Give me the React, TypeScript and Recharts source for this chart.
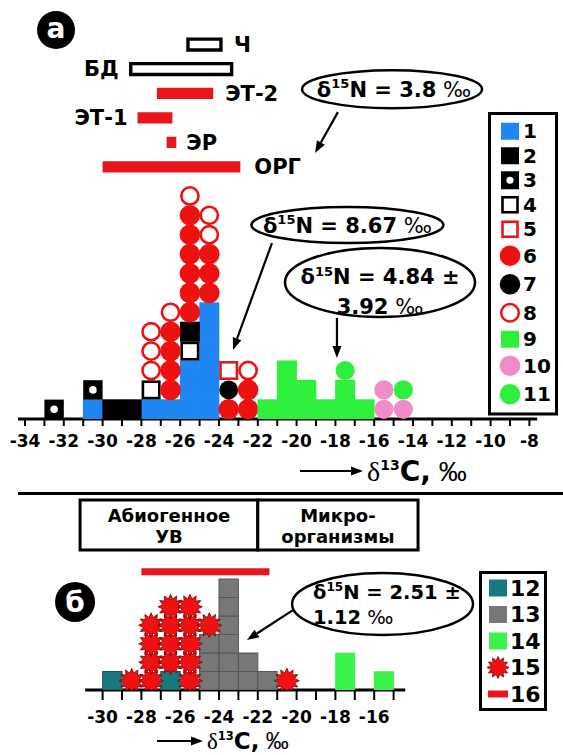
import React from 'react';
import {
  ScatterChart, Scatter, XAxis, YAxis, ReferenceArea, ReferenceDot, ReferenceLine, Legend,
} from 'recharts';

// ---------------- fonts / colours ----------------
const FONT = "'DejaVu Sans', 'Liberation Sans', Arial, sans-serif";
const SERIF = "'Liberation Serif', 'DejaVu Serif', serif";
const SANS = "'Liberation Sans', Arial, sans-serif";
const RED = '#e8161b';

// ---------------- data: panel а (counts per 1‰ δ13C bin, bin = [edge, edge+1]) ----------------
const BINS_A = [-33, -32, -31, -30, -29, -28, -27, -26, -25, -24, -23, -22, -21, -20, -19, -18, -17, -16, -15];
const S1 = [0, 0, 1, 0, 0, 1, 1, 3, 6, 0, 0, 0, 0, 0, 0, 0, 0, 0, 0];
const S2 = [0, 0, 0, 1, 1, 0, 0, 1, 0, 0, 0, 0, 0, 0, 0, 0, 0, 0, 0];
const S3 = [1, 0, 1, 0, 0, 0, 0, 0, 0, 0, 0, 0, 0, 0, 0, 0, 0, 0, 0];
const S4 = [0, 0, 0, 0, 0, 1, 0, 1, 0, 0, 0, 0, 0, 0, 0, 0, 0, 0, 0];
const S5 = [0, 0, 0, 0, 0, 0, 0, 0, 0, 1, 0, 0, 0, 0, 0, 0, 0, 0, 0];
const S6 = [0, 0, 0, 0, 0, 0, 4, 6, 3, 1, 2, 0, 0, 0, 0, 0, 0, 0, 0];
const S7 = [0, 0, 0, 0, 0, 0, 0, 0, 0, 1, 0, 0, 0, 0, 0, 0, 0, 0, 0];
const S8 = [0, 0, 0, 0, 0, 3, 1, 1, 2, 0, 1, 0, 0, 0, 0, 0, 0, 0, 0];
const S9 = [0, 0, 0, 0, 0, 0, 0, 0, 0, 0, 0, 1, 3, 2, 1, 2, 1, 0, 0];
const S10 = [0, 0, 0, 0, 0, 0, 0, 0, 0, 0, 0, 0, 0, 0, 0, 0, 0, 2, 1];
const S11 = [0, 0, 0, 0, 0, 0, 0, 0, 0, 0, 0, 0, 0, 0, 0, 1, 0, 0, 1];
const ORDER_A = ['1', '3', '4', '2', '6', '7', '5', '8', '9', '10', '11'];
const COUNTS_A: Record<string, number[]> = {
  '1': S1, '2': S2, '3': S3, '4': S4, '5': S5, '6': S6, '7': S7, '8': S8, '9': S9, '10': S10, '11': S11,
};

// ranges (δ13C) of panel а
const RANGE_NAMES = ['ОРГ', 'ЭР', 'ЭТ-1', 'ЭТ-2', 'БД', 'Ч'];
const RANGE_FROM = [-30.0, -26.7, -28.2, -27.2, -28.55, -25.6];
const RANGE_TO = [-22.9, -26.2, -26.4, -24.3, -23.35, -23.9];

// ---------------- data: panel б ----------------
const BINS_B = [-30, -29, -28, -27, -26, -25, -24, -23, -22, -21, -20, -19, -18, -17, -16];
const S12 = [1, 0, 0, 1, 0, 0, 0, 0, 0, 0, 0, 0, 0, 0, 0];
const S13 = [0, 0, 0, 0, 0, 3, 6, 2, 1, 0, 0, 0, 0, 0, 0];
const S14 = [0, 0, 0, 0, 0, 0, 0, 0, 0, 0, 0, 0, 2, 0, 1];
const S15 = [0, 1, 4, 4, 5, 1, 0, 0, 0, 1, 0, 0, 0, 0, 0];
const ORDER_B = ['12', '13', '14', '15'];
const COUNTS_B: Record<string, number[]> = { '12': S12, '13': S13, '14': S14, '15': S15 };
const RANGE_16 = [-28.0, -21.4];
const BOX_EDGES = [-31.16, -22.0, -13.74];
const BOX_TEXT = [['Абиогенное', 'УВ'], ['Микро-', 'организмы']];

// ticks and labels
const TICKS_A = [-34, -33, -32, -31, -30, -29, -28, -27, -26, -25, -24, -23, -22, -21, -20, -19, -18, -17, -16, -15, -14, -13, -12, -11, -10, -9, -8];
const TICKS_B = [-30, -29, -28, -27, -26, -25, -24, -23, -22, -21, -20, -19, -18, -17, -16, -15];
const LEGEND_A = ['1', '2', '3', '4', '5', '6', '7', '8', '9', '10', '11'];
const LEGEND_B = ['12', '13', '14', '15', '16'];
const NOTE_38 = '3.8';
const NOTE_867 = '8.67';
const NOTE_484 = ['4.84', '3.92'];
const NOTE_251 = ['2.51', '1.12'];

// ---------------- styles ----------------
const STYLE: Record<string, any> = {
  '1': { kind: 'block', fill: '#1f86f2' },
  '2': { kind: 'block', fill: '#000' },
  '3': { kind: 'dotSquare', fill: '#000' },
  '4': { kind: 'openSquare', stroke: '#000' },
  '5': { kind: 'openSquare', stroke: RED },
  '6': { kind: 'disc', fill: '#ee1111', r: 10.3 },
  '7': { kind: 'disc', fill: '#000', r: 9.4 },
  '8': { kind: 'ring', stroke: '#ee1111', r: 8.6 },
  '9': { kind: 'block', fill: '#2ef03c' },
  '10': { kind: 'disc', fill: '#f28cc8', r: 9.6 },
  '11': { kind: 'disc', fill: '#2ef03c', r: 9.6 },
  '12': { kind: 'block', fill: '#17797d', stroke: '#0f5a5d' },
  '13': { kind: 'block', fill: '#777777', stroke: '#555555' },
  '14': { kind: 'block', fill: '#3cf24c' },
  '15': { kind: 'star', fill: '#f01212', stroke: '#800000' },
  '16': { kind: 'bar', fill: RED },
};

// ---------------- layout ----------------
const W = 563;
const UX = 19.4; // px per 1 ‰ of δ13C (both panels)
const PX_M34 = 25; // page x of δ13C = -34
const pxOf = (v: number) => PX_M34 + (v + 34) * UX;

const A_H = 500, A_BASE = 419, A_UY = 19.4, A_YMAX = 21, A_AXIS_H = 40;
const A_XDOM: [number, number] = [-34.36, -7.6];
const A_MARGIN = {
  left: pxOf(A_XDOM[0]), right: W - pxOf(A_XDOM[1]),
  top: A_BASE - A_YMAX * A_UY, bottom: A_H - A_BASE - A_AXIS_H,
};

const B_TOP = 480, B_H = 275, B_BASE = 210, B_UY = 18.5, B_YMAX = 11, B_AXIS_H = 40;
const B_XDOM: [number, number] = [-30.9, -14.4];
const B_MARGIN = {
  left: pxOf(B_XDOM[0]), right: W - pxOf(B_XDOM[1]),
  top: B_BASE - B_YMAX * B_UY, bottom: B_H - B_BASE - B_AXIS_H,
};

const RANGE_ROW0 = 13.0, RANGE_STEP = 1.26;
const RANGE_STYLE: Record<string, any> = {
  'ОРГ': { outline: false, side: 'right', gap: 14 },
  'ЭР': { outline: false, side: 'right', gap: 10 },
  'ЭТ-1': { outline: false, side: 'left', gap: 10 },
  'ЭТ-2': { outline: false, side: 'right', gap: 12 },
  'БД': { outline: true, side: 'left', gap: 12 },
  'Ч': { outline: true, side: 'right', gap: 13 },
};

// ---------------- helpers ----------------
function stack(bins: number[], order: string[], counts: Record<string, number[]>) {
  const level = bins.map(() => 0);
  const out: Record<string, { x: number; y: number }[]> = {};
  order.forEach((id) => {
    out[id] = [];
    counts[id].forEach((n, i) => {
      for (let k = 0; k < n; k++) {
        out[id].push({ x: bins[i] + 0.5, y: level[i] + 0.5 });
        level[i] += 1;
      }
    });
  });
  return out;
}
const STACK_A = stack(BINS_A, ORDER_A, COUNTS_A);
const STACK_B = stack(BINS_B, ORDER_B, COUNTS_B);

function starPoints(cx: number, cy: number, ro: number, ri: number, n: number) {
  const pts: string[] = [];
  for (let i = 0; i < 2 * n; i++) {
    const a = (i * Math.PI) / n - Math.PI / 2;
    const r = i % 2 === 0 ? ro : ri;
    pts.push(`${cx + r * Math.cos(a)},${cy + r * Math.sin(a)}`);
  }
  return pts.join(' ');
}

function Mark({ id, cx, cy, w, h }: any) {
  const s = STYLE[id];
  if (cx == null || cy == null) return null;
  switch (s.kind) {
    case 'block':
      return s.stroke
        ? <rect x={cx - w / 2} y={cy - h / 2} width={w} height={h} fill={s.fill} stroke={s.stroke} strokeWidth={1} />
        : <rect x={cx - w / 2 - 0.3} y={cy - h / 2 - 0.3} width={w + 0.6} height={h + 0.6} fill={s.fill} />;
    case 'dotSquare':
      return (
        <g>
          <rect x={cx - w / 2} y={cy - h / 2} width={w} height={h} fill={s.fill} />
          <circle cx={cx} cy={cy} r={3.8} fill="#fff" />
        </g>
      );
    case 'openSquare': {
      const a = Math.min(w, h) - 3;
      return <rect x={cx - a / 2} y={cy - a / 2} width={a} height={a} fill="#fff" stroke={s.stroke} strokeWidth={2.6} />;
    }
    case 'disc':
      return <circle cx={cx} cy={cy} r={s.r} fill={s.fill} />;
    case 'ring':
      return <circle cx={cx} cy={cy} r={s.r} fill="#fff" stroke={s.stroke} strokeWidth={2.6} />;
    case 'star':
      return <polygon points={starPoints(cx, cy, 12.5, 8, 12)} fill={s.fill} stroke={s.stroke} strokeWidth={0.8} />;
    default:
      return null;
  }
}

function Swatch({ id, cx, cy }: any) {
  const s = STYLE[id];
  switch (s.kind) {
    case 'block':
      return <rect x={cx - 9} y={cy - 8.5} width={18} height={17} fill={s.fill} />;
    case 'dotSquare':
      return (
        <g>
          <rect x={cx - 9} y={cy - 9} width={18} height={18} fill={s.fill} />
          <circle cx={cx} cy={cy} r={3.6} fill="#fff" />
        </g>
      );
    case 'openSquare':
      return <rect x={cx - 7.5} y={cy - 7.5} width={15} height={15} fill="#fff" stroke={s.stroke} strokeWidth={2.6} />;
    case 'disc':
      return <circle cx={cx} cy={cy} r={10.3} fill={s.fill} />;
    case 'ring':
      return <circle cx={cx} cy={cy} r={8.8} fill="#fff" stroke={s.stroke} strokeWidth={2.5} />;
    case 'star':
      return <polygon points={starPoints(cx, cy, 11, 7.2, 12)} fill={s.fill} stroke={s.stroke} strokeWidth={0.8} />;
    case 'bar':
      return <rect x={cx - 10} y={cy - 3.5} width={20} height={7} fill={s.fill} />;
    default:
      return null;
  }
}

function LegendPanel({ ids, heightOf, pad, width, swX, lblX, fs }: any) {
  let y = pad;
  const rows = ids.map((id: string) => {
    const h = heightOf(id);
    const cy = y + h / 2;
    y += h;
    return { id, cy };
  });
  const H = y + pad;
  return (
    <svg width={width} height={H} style={{ display: 'block' }}>
      <rect x={1.5} y={1.5} width={width - 3} height={H - 3} fill="#fff" stroke="#000" strokeWidth={3} />
      {rows.map((r: any) => (
        <g key={r.id}>
          <Swatch id={r.id} cx={swX} cy={r.cy} />
          <text x={lblX} y={r.cy + fs * 0.36} fontFamily={FONT} fontWeight={700} fontSize={fs} fill="#000">{r.id}</text>
        </g>
      ))}
    </svg>
  );
}

function AxisTitle({ viewBox, x0, len, dy, fs }: any) {
  if (!viewBox) return null;
  const y = viewBox.y + dy;
  const tip = x0 + len;
  return (
    <g>
      <line x1={x0} y1={y} x2={tip - 9} y2={y} stroke="#000" strokeWidth={2} />
      <polygon points={`${tip},${y} ${tip - 12},${y - 4.5} ${tip - 12},${y + 4.5}`} fill="#000" />
      <text x={tip + 4} y={y + fs * 0.36} fontSize={fs} fill="#000">
        <tspan fontFamily={SERIF}>δ</tspan>
        <tspan fontFamily={FONT} fontWeight={700} fontSize={fs * 0.5} dy={-fs * 0.4}>13</tspan>
        <tspan fontFamily={FONT} fontWeight={700} dy={fs * 0.4}>C,</tspan>
        <tspan fontFamily={SANS}>{' ‰'}</tspan>
      </text>
    </g>
  );
}

function DeltaLine({ x, y, val, tail, anchor = 'middle', fs = 21 }: any) {
  return (
    <text x={x} y={y + fs * 0.36} textAnchor={anchor} fontFamily={FONT} fontWeight={700} fontSize={fs} fill="#000">
      <tspan>δ</tspan>
      <tspan fontSize={fs * 0.62} dy={-fs * 0.4}>15</tspan>
      <tspan dy={fs * 0.4}>{`N = ${val}`}</tspan>
      {tail}
    </text>
  );
}

const permil = <tspan fontWeight={400}>{' ‰'}</tspan>;
const plusMinus = <tspan>{' ±'}</tspan>;

function ArrowShape(p: any) {
  const { x1, y1, x2, y2 } = p;
  if ([x1, y1, x2, y2].some((v) => v == null || Number.isNaN(v))) return null;
  const ang = Math.atan2(y2 - y1, x2 - x1);
  const L = 12, hw = 4.5;
  const bx = x2 - L * Math.cos(ang), by = y2 - L * Math.sin(ang);
  const px = -Math.sin(ang) * hw, py = Math.cos(ang) * hw;
  return (
    <g>
      <line x1={x1} y1={y1} x2={bx} y2={by} stroke="#000" strokeWidth={2.2} />
      <polygon points={`${x2},${y2} ${bx + px},${by + py} ${bx - px},${by - py}`} fill="#000" />
    </g>
  );
}

const badge = (letter: string, r: number, fs: number, shift: number) => (p: any) => (
  <g>
    <circle cx={p.cx} cy={p.cy} r={r} fill="#000" />
    <text x={p.cx} y={p.cy + shift} textAnchor="middle" fill="#fff" fontFamily={FONT} fontWeight={700} fontSize={fs}>{letter}</text>
  </g>
);

const evenOnly = (v: number) => (Math.abs(v) % 2 === 0 ? String(v) : '');
const tickStyle = { fill: '#000', fontSize: 17, fontWeight: 700, fontFamily: FONT };

// ---------------- panels ----------------
function PanelA() {
  return (
    <ScatterChart width={W} height={A_H} margin={A_MARGIN}>
      <XAxis
        type="number" dataKey="x" domain={A_XDOM} allowDataOverflow ticks={TICKS_A} interval={0}
        height={A_AXIS_H} tickSize={7} tickMargin={9} tickFormatter={evenOnly} tick={tickStyle}
        axisLine={{ stroke: '#000', strokeWidth: 3 }} tickLine={{ stroke: '#000', strokeWidth: 2 }}
        label={(p: any) => <AxisTitle viewBox={p.viewBox} x0={300} len={63} dy={52} fs={28} />}
      />
      <YAxis type="number" dataKey="y" domain={[0, A_YMAX]} allowDataOverflow hide />

      {RANGE_NAMES.map((name, i) => {
        const st = RANGE_STYLE[name];
        const yc = RANGE_ROW0 + i * RANGE_STEP;
        const half = st.outline ? 0.28 : 0.29;
        return (
          <ReferenceArea
            key={name} x1={RANGE_FROM[i]} x2={RANGE_TO[i]} y1={yc - half} y2={yc + half}
            fill={st.outline ? '#fff' : RED} fillOpacity={1}
            stroke={st.outline ? '#000' : 'none'} strokeWidth={st.outline ? 3.4 : 0} ifOverflow="visible"
            label={{ value: name, position: st.side, offset: st.gap, fill: '#000', fontSize: 21, fontWeight: 700, fontFamily: FONT }}
          />
        );
      })}

      {ORDER_A.map((id) => (
        <Scatter
          key={id} name={id} data={STACK_A[id]} isAnimationActive={false}
          shape={(p: any) => <Mark id={id} cx={p.cx} cy={p.cy} w={UX} h={A_UY} />}
        />
      ))}

      <ReferenceDot x={-32.4} y={20.05} ifOverflow="visible" shape={badge('а', 19, 28, 8)} />

      <ReferenceDot
        x={-15.08} y={17.0} ifOverflow="visible"
        shape={(p: any) => (
          <g>
            <ellipse cx={p.cx} cy={p.cy} rx={90} ry={19} fill="#fff" stroke="#000" strokeWidth={2.5} />
            <DeltaLine x={p.cx + 2} y={p.cy} val={NOTE_38} tail={permil} />
          </g>
        )}
      />
      <ReferenceLine segment={[{ x: -17.87, y: 15.82 }, { x: -19.05, y: 13.71 }]} ifOverflow="visible" shape={ArrowShape} />

      <ReferenceDot
        x={-17.38} y={10.0} ifOverflow="visible"
        shape={(p: any) => (
          <g>
            <ellipse cx={p.cx} cy={p.cy} rx={96} ry={18} fill="#fff" stroke="#000" strokeWidth={2.5} />
            <DeltaLine x={p.cx} y={p.cy} val={NOTE_867} tail={permil} />
          </g>
        )}
      />
      <ReferenceLine segment={[{ x: -21.27, y: 9.07 }, { x: -23.28, y: 3.56 }]} ifOverflow="visible" shape={ArrowShape} />

      <ReferenceDot
        x={-15.7} y={7.04} ifOverflow="visible"
        shape={(p: any) => (
          <g>
            <ellipse cx={p.cx} cy={p.cy} rx={95} ry={34.5} fill="#fff" stroke="#000" strokeWidth={2.5} />
            <DeltaLine x={p.cx} y={p.cy - 6} val={NOTE_484[0]} tail={plusMinus} />
            <text x={p.cx} y={p.cy + 24 + 21 * 0.36} textAnchor="middle" fontFamily={FONT} fontWeight={700} fontSize={21} fill="#000">
              {NOTE_484[1]}
              {permil}
            </text>
          </g>
        )}
      />
      <ReferenceLine segment={[{ x: -17.92, y: 5.21 }, { x: -17.92, y: 3.14 }]} ifOverflow="visible" shape={ArrowShape} />

      <Legend
        layout="vertical" align="center" verticalAlign="middle"
        wrapperStyle={{ left: 488, top: 112, width: 70, height: 304, right: 'auto', bottom: 'auto' }}
        content={() => (
          <LegendPanel
            ids={LEGEND_A}
            heightOf={(id: string) => (STYLE[id].kind === 'disc' || STYLE[id].kind === 'ring' ? 28.5 : 24.5)}
            pad={7} width={70} swX={22} lblX={35} fs={20}
          />
        )}
      />
    </ScatterChart>
  );
}

function PanelB() {
  return (
    <ScatterChart width={W} height={B_H} margin={B_MARGIN}>
      <XAxis
        type="number" dataKey="x" domain={B_XDOM} allowDataOverflow ticks={TICKS_B} interval={0}
        height={B_AXIS_H} tickSize={10} tickMargin={11} tickFormatter={evenOnly} tick={tickStyle}
        axisLine={{ stroke: '#000', strokeWidth: 3 }} tickLine={{ stroke: '#000', strokeWidth: 2 }}
        label={(p: any) => <AxisTitle viewBox={p.viewBox} x0={157} len={46} dy={51} fs={23} />}
      />
      <YAxis type="number" dataKey="y" domain={[0, B_YMAX]} allowDataOverflow hide />

      {BOX_TEXT.map((lines, i) => (
        <ReferenceArea
          key={lines[0]} x1={BOX_EDGES[i]} x2={BOX_EDGES[i + 1]} y1={7.57} y2={10.27}
          fill="#fff" fillOpacity={1} stroke="#000" strokeWidth={3} ifOverflow="visible"
          label={(p: any) => {
            const vb = p.viewBox || {};
            const cx = vb.x + vb.width / 2;
            const cy = vb.y + vb.height / 2;
            return (
              <g>
                {lines.map((t: string, k: number) => (
                  <text key={t} x={cx} y={cy + (k === 0 ? -9.5 : 11.5) + 6.5} textAnchor="middle" fontFamily={FONT} fontWeight={700} fontSize={18} fill="#000">{t}</text>
                ))}
              </g>
            );
          }}
        />
      ))}

      <ReferenceArea x1={RANGE_16[0]} x2={RANGE_16[1]} y1={6.2} y2={6.58} fill={RED} fillOpacity={1} ifOverflow="visible" />

      {ORDER_B.map((id) => (
        <Scatter
          key={id} name={id} data={STACK_B[id]} isAnimationActive={false}
          shape={(p: any) => <Mark id={id} cx={p.cx} cy={p.cy} w={UX} h={B_UY} />}
        />
      ))}

      <ReferenceDot x={-31.42} y={4.76} ifOverflow="visible" shape={badge('б', 20, 28, 10)} />

      <ReferenceDot
        x={-15.57} y={4.65} ifOverflow="visible"
        shape={(p: any) => (
          <g>
            <ellipse cx={p.cx} cy={p.cy} rx={90.5} ry={31} fill="#fff" stroke="#000" strokeWidth={2.5} />
            <DeltaLine x={p.cx - 69.5} y={p.cy - 12} val={NOTE_251[0]} tail={plusMinus} anchor="start" fs={19.5} />
            <text x={p.cx - 69.5} y={p.cy + 13 + 19.5 * 0.36} textAnchor="start" fontFamily={FONT} fontWeight={700} fontSize={19.5} fill="#000">
              {NOTE_251[1]}
              {permil}
            </text>
          </g>
        )}
      />
      <ReferenceLine segment={[{ x: -20.19, y: 4.32 }, { x: -22.56, y: 2.7 }]} ifOverflow="visible" shape={ArrowShape} />

      <Legend
        layout="vertical" align="center" verticalAlign="middle"
        wrapperStyle={{ left: 479, top: 91, width: 68, height: 140, right: 'auto', bottom: 'auto' }}
        content={() => (
          <LegendPanel ids={LEGEND_B} heightOf={() => 26.5} pad={3.75} width={68} swX={19} lblX={31} fs={22} />
        )}
      />
    </ScatterChart>
  );
}

export default function App() {
  return (
    <div style={{ position: 'absolute', left: 0, top: 0, width: W, height: 755, background: '#fff', overflow: 'hidden' }}>
      <div style={{ position: 'absolute', left: 0, top: 0 }}>
        <PanelA />
      </div>
      <div style={{ position: 'absolute', left: 18, top: 492, width: W - 18, height: 2.5, background: '#000' }} />
      <div style={{ position: 'absolute', left: 0, top: B_TOP }}>
        <PanelB />
      </div>
    </div>
  );
}
